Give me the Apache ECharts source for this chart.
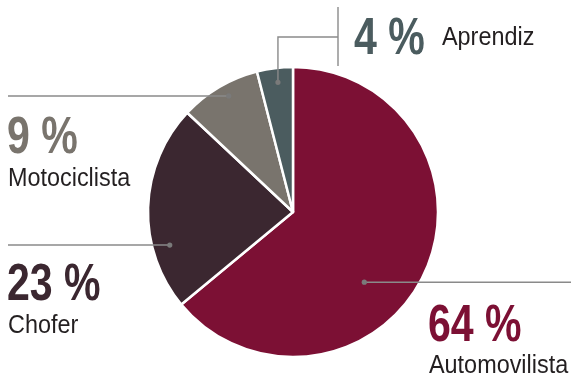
<!DOCTYPE html>
<html>
<head>
<meta charset="utf-8">
<script src="https://cdn.jsdelivr.net/npm/echarts@6/dist/echarts.min.js"></script>
<style>
  html, body { margin: 0; padding: 0; background: #fff; }
  #chart { width: 575px; height: 380px; }
</style>
</head>
<body>
<div id="chart"></div>
<script>
// Shares by licence type (percent)
const categories = ['Automovilista', 'Chofer', 'Motociclista', 'Aprendiz'];
const shares = [64, 23, 9, 4];

const colors = ['#7c1034', '#3b2730', '#79746d', '#4b5c5f'];
const FONT = '"Liberation Sans", Arial, sans-serif';
const LINE = '#8a8a8a';
const NAME_COLOR = '#231f20';

// Where each leader line touches its slice: fraction along the slice's arc
// and fraction of the radius.
const anchors = [
  { angleFrac: 0.584, radiusFrac: 0.69 },
  { angleFrac: 0.297, radiusFrac: 0.88 },
  { angleFrac: 0.55,  radiusFrac: 0.915 },
  { angleFrac: 0.54,  radiusFrac: 0.90 }
];

const chart = echarts.init(document.getElementById('chart'), null, { renderer: 'canvas' });

chart.setOption({
  animation: false,
  backgroundColor: '#fff',
  series: [{
    type: 'pie',
    center: [293, 212],
    radius: [0, 145],
    startAngle: 90,
    clockwise: true,
    label: { show: false },
    labelLine: { show: false },
    emphasis: { disabled: true },
    itemStyle: { borderColor: '#fff', borderWidth: 2.5 },
    data: categories.map((name, i) => ({
      name,
      value: shares[i],
      itemStyle: { color: colors[i] }
    }))
  }]
});

// Read each slice's geometry back from the pie layout
function sliceLayout(i) {
  try {
    const data = chart.getModel().getSeriesByIndex(0).getData();
    const l = data.getItemLayout(i);
    if (l && l.r) return l;
  } catch (e) {}
  const total = shares.reduce((a, b) => a + b, 0);
  let start = -Math.PI / 2;
  for (let k = 0; k < i; k++) start += shares[k] / total * Math.PI * 2;
  return { cx: 293, cy: 212, r: 145, startAngle: start, endAngle: start + shares[i] / total * Math.PI * 2 };
}

function anchorPoint(i) {
  const l = sliceLayout(i);
  const a = l.startAngle + (l.endAngle - l.startAngle) * anchors[i].angleFrac;
  const rr = l.r * anchors[i].radiusFrac;
  return [l.cx + rr * Math.cos(a), l.cy + rr * Math.sin(a)];
}

const graphics = [];
function line(points) {
  graphics.push({
    type: 'polyline', silent: true, z: 10,
    shape: { points },
    style: { stroke: LINE, lineWidth: 1.4, fill: null }
  });
}
function dot(p) {
  graphics.push({
    type: 'circle', silent: true, z: 11,
    shape: { cx: p[0], cy: p[1], r: 2.6 },
    style: { fill: '#7a7a7a' }
  });
}
// Condensed look: regular sans squeezed horizontally from its left edge
function text(str, x, baseline, size, weight, color, squeeze) {
  graphics.push({
    type: 'text', silent: true, z: 12,
    x, y: baseline,
    scaleX: squeeze,
    style: {
      text: str,
      font: weight + ' ' + size + 'px ' + FONT,
      fill: color,
      align: 'left',
      verticalAlign: 'bottom'
    }
  });
}
const pct = v => v + ' %';
const BIG = 52, SMALL = 26, BIG_SQ = 0.79, SMALL_SQ = 0.9;
// bottom-aligned text box reaches roughly 0.21em below the baseline
const bottom = (base, size) => base + size * 0.21;

// Automovilista: line out to the right edge
const p0 = anchorPoint(0);
line([p0, [571, p0[1]]]); dot(p0);
text(pct(shares[0]), 428, bottom(342, BIG), BIG, 'bold', colors[0], BIG_SQ);
text(categories[0], 429, bottom(373, SMALL), SMALL, 'normal', NAME_COLOR, SMALL_SQ);

// Chofer: line out to the left edge
const p1 = anchorPoint(1);
line([p1, [8, p1[1]]]); dot(p1);
text(pct(shares[1]), 7, bottom(301, BIG), BIG, 'bold', colors[1], BIG_SQ);
text(categories[1], 8, bottom(333, SMALL), SMALL, 'normal', NAME_COLOR, SMALL_SQ);

// Motociclista: line out to the left edge
const p2 = anchorPoint(2);
line([p2, [8, p2[1]]]); dot(p2);
text(pct(shares[2]), 7, bottom(154, BIG), BIG, 'bold', colors[2], BIG_SQ);
text(categories[2], 8, bottom(186, SMALL), SMALL, 'normal', NAME_COLOR, SMALL_SQ);

// Aprendiz: up, across, and into a short vertical bar
const p3 = anchorPoint(3);
line([p3, [p3[0], 37], [338, 37]]); dot(p3);
line([[338, 7], [338, 66]]);
text(pct(shares[3]), 354, bottom(55, BIG), BIG, 'bold', colors[3], BIG_SQ);
text(categories[3], 442, bottom(45, SMALL), SMALL, 'normal', NAME_COLOR, SMALL_SQ);

chart.setOption({ graphic: graphics });
</script>
</body>
</html>
